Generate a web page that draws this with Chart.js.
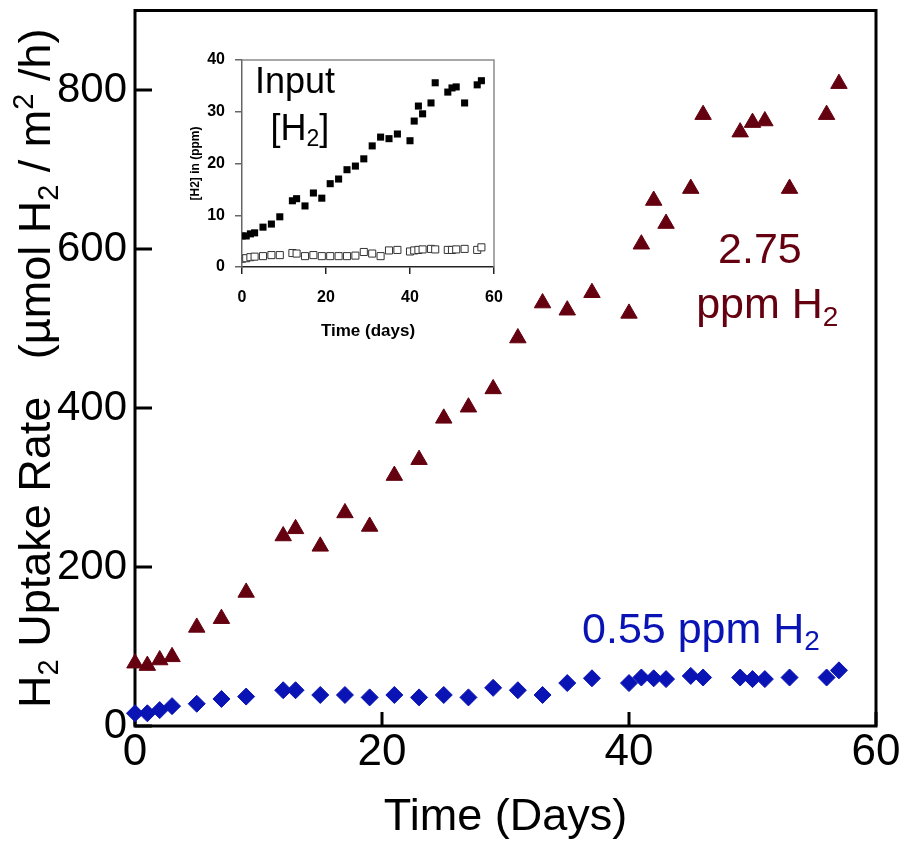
<!DOCTYPE html>
<html>
<head>
<meta charset="utf-8">
<script src="https://cdn.jsdelivr.net/npm/chart.js@4.4.0/dist/chart.umd.min.js"></script>
<style>
html, body { margin: 0; padding: 0; background: #fff; }
#wrap { position: relative; width: 909px; height: 845px; }
#main { position: absolute; left: 0; top: 0; }
#inset { position: absolute; left: 160px; top: 45px; }
</style>
</head>
<body>
<div id="wrap">
  <canvas id="main" width="909" height="845"></canvas>
  <canvas id="inset" width="350" height="320"></canvas>
</div>
<script>
// sampling days (shared by all series)
const days = [0, 1, 2, 3, 5, 7, 9, 12, 13, 15, 17, 19, 21, 23, 25, 27, 29, 31, 33, 35, 37, 40, 41, 42, 43, 45, 46, 49, 50, 51, 53, 56, 57];

// H2 uptake rate, umol H2 / m2 / h
const uptakeHigh = [79, 76, 83, 87, 124, 135, 168, 239, 248, 226, 268, 251, 315, 335, 387, 401, 424, 488, 532, 523, 545, 519, 606, 661, 632, 676, 769, 747, 759, 761, 676, 769, 808];
const uptakeLow = [16, 16, 20, 25, 28, 34, 37, 45, 45, 39, 39, 36, 39, 36, 39, 36, 48, 45, 39, 54, 60, 54, 61, 60, 59, 63, 61, 61, 59, 59, 61, 61, 70];

// inset: input [H2] in ppm
const inputHigh = [6.0, 6.0, 6.4, 6.6, 7.7, 8.3, 9.7, 12.8, 13.2, 11.8, 14.3, 13.3, 16.1, 17.0, 18.8, 19.5, 20.9, 23.4, 25.1, 24.8, 25.7, 24.4, 28.2, 31.1, 29.6, 31.7, 35.6, 33.8, 34.6, 34.8, 31.7, 35.2, 36.0];
const inputLow = [1.6, 1.7, 1.9, 2.0, 2.1, 2.3, 2.3, 2.7, 2.6, 2.1, 2.3, 2.1, 2.1, 2.1, 2.1, 2.2, 2.9, 2.6, 2.1, 3.2, 3.3, 3.0, 3.2, 3.3, 3.4, 3.5, 3.4, 3.3, 3.3, 3.4, 3.5, 3.3, 3.8];

// tick values
const mainXTicks = [0, 20, 40, 60];
const mainYTicks = [0, 200, 400, 600, 800];
const insetXTicks = [0, 20, 40, 60];
const insetYTicks = [0, 10, 20, 30, 40];

const RED = '#64000f';
const BLUE = '#0a14b4';
const FAMILY = "'Liberation Sans', Arial, sans-serif";

Chart.defaults.font.family = FAMILY;
Chart.defaults.color = '#000';

const pts = (ys) => days.map((d, i) => ({ x: d, y: ys[i] }));
const setTicks = (vals) => (scale) => { scale.ticks = vals.map(v => ({ value: v })); };
// fixed box size, no automatic label overflow padding
const fixBox = (w, h) => (s) => {
  if (w != null) s.width = w;
  if (h != null) s.height = h;
  s.paddingTop = 0; s.paddingBottom = 0; s.paddingLeft = 0; s.paddingRight = 0;
};

// text with sub/superscripts, drawn on the canvas
function richText(ctx, parts, x, y, size, color, align, rot) {
  ctx.save();
  ctx.translate(x, y);
  if (rot) ctx.rotate(rot);
  ctx.fillStyle = color;
  ctx.textBaseline = 'alphabetic';
  ctx.textAlign = 'left';
  const fontFor = k => (k ? Math.round(size * 0.65) : size) + 'px ' + FAMILY;
  let w = 0;
  parts.forEach(([t, k]) => { ctx.font = fontFor(k); w += ctx.measureText(t).width; });
  let cx = align === 'center' ? -w / 2 : (align === 'right' ? -w : 0);
  parts.forEach(([t, k]) => {
    ctx.font = fontFor(k);
    const dy = k === 'sub' ? size * 0.18 : (k === 'sup' ? -size * 0.38 : 0);
    ctx.fillText(t, cx, dy);
    cx += ctx.measureText(t).width;
  });
  ctx.restore();
}

const mainDecor = {
  id: 'mainDecor',
  beforeDatasetsDraw(chart) {
    const { ctx, chartArea: a, scales: { x, y } } = chart;
    ctx.save();
    ctx.strokeStyle = '#000';
    ctx.lineWidth = 3;
    ctx.strokeRect(a.left, a.top, a.right - a.left, a.bottom - a.top);
    ctx.beginPath();
    y.ticks.forEach(t => {
      const py = y.getPixelForValue(t.value);
      ctx.moveTo(a.left, py); ctx.lineTo(a.left + 17, py);
    });
    x.ticks.forEach(t => {
      const px = x.getPixelForValue(t.value);
      ctx.moveTo(px, a.bottom); ctx.lineTo(px, a.bottom - 14);
    });
    ctx.stroke();
    ctx.restore();
  },
  afterDraw(chart) {
    const { ctx, chartArea: a, scales: { x, y } } = chart;
    richText(ctx, [['2.75', '']], x.getPixelForValue(50.6), y.getPixelForValue(582), 43, RED, 'center');
    richText(ctx, [['ppm H', ''], ['2', 'sub']], x.getPixelForValue(51.2), y.getPixelForValue(513), 43, RED, 'center');
    richText(ctx, [['0.55 ppm H', ''], ['2', 'sub']], x.getPixelForValue(36.2), y.getPixelForValue(105), 43, BLUE, 'left');
    richText(ctx, [['H', ''], ['2', 'sub'], [' Uptake Rate   (\u00b5mol H', ''], ['2', 'sub'], [' / m', ''], ['2', 'sup'], [' /h)', '']],
      50, (a.top + a.bottom) / 2, 45, '#000', 'center', -Math.PI / 2);
  }
};

new Chart(document.getElementById('main'), {
  type: 'scatter',
  data: {
    datasets: [
      {
        label: '2.75 ppm H2',
        data: pts(uptakeHigh),
        pointStyle: 'triangle',
        radius: 9.5,
        backgroundColor: RED,
        borderColor: RED,
        borderWidth: 1,
        clip: false
      },
      {
        label: '0.55 ppm H2',
        data: pts(uptakeLow),
        pointStyle: 'rectRot',
        radius: 8.5,
        backgroundColor: BLUE,
        borderColor: BLUE,
        borderWidth: 1,
        clip: false
      }
    ]
  },
  options: {
    responsive: false,
    animation: false,
    devicePixelRatio: 1,
    layout: { padding: { left: 0, top: 10, right: 33, bottom: 0 } },
    plugins: { legend: { display: false }, tooltip: { enabled: false } },
    scales: {
      x: {
        type: 'linear',
        min: 0,
        max: 60,
        afterBuildTicks: setTicks(mainXTicks),
        afterFit: fixBox(null, 119),
        grid: { display: false, drawTicks: false },
        border: { display: false },
        ticks: { color: '#000', font: { size: 44 }, padding: 0, maxRotation: 0 },
        title: { display: true, text: 'Time (Days)', color: '#000', font: { size: 45 }, padding: { top: 0, bottom: 0 } }
      },
      y: {
        type: 'linear',
        min: 0,
        max: 900,
        afterBuildTicks: setTicks(mainYTicks),
        afterFit: fixBox(135, null),
        grid: { display: false, drawTicks: false },
        border: { display: false },
        ticks: { color: '#000', font: { size: 42 }, padding: 8 }
      }
    }
  },
  plugins: [mainDecor]
});

const insetDecor = {
  id: 'insetDecor',
  beforeDatasetsDraw(chart) {
    const { ctx, chartArea: a } = chart;
    ctx.save();
    ctx.strokeStyle = '#8c8c8c';
    ctx.lineWidth = 1.5;
    ctx.beginPath();
    ctx.moveTo(a.left, a.top); ctx.lineTo(a.right, a.top); ctx.lineTo(a.right, a.bottom);
    ctx.stroke();
    ctx.restore();
  },
  afterDraw(chart) {
    const { ctx, scales: { x, y } } = chart;
    richText(ctx, [['Input', '']], x.getPixelForValue(12.6), y.getPixelForValue(33.7), 36, '#000', 'center');
    richText(ctx, [['[H', ''], ['2', 'sub'], [']', '']], x.getPixelForValue(13.8), y.getPixelForValue(24.6), 36, '#000', 'center');
  }
};

new Chart(document.getElementById('inset'), {
  type: 'scatter',
  data: {
    datasets: [
      {
        label: '2.75 ppm input',
        data: pts(inputHigh),
        pointStyle: 'rect',
        radius: 5,
        backgroundColor: '#000',
        borderColor: '#000',
        borderWidth: 0
      },
      {
        label: '0.55 ppm input',
        data: pts(inputLow),
        pointStyle: 'rect',
        radius: 5,
        backgroundColor: '#fff',
        borderColor: '#333',
        borderWidth: 1
      }
    ]
  },
  options: {
    responsive: false,
    animation: false,
    devicePixelRatio: 1,
    layout: { padding: { left: 0, top: 15, right: 16, bottom: 0 } },
    plugins: { legend: { display: false }, tooltip: { enabled: false } },
    scales: {
      x: {
        type: 'linear',
        min: 0,
        max: 60,
        afterBuildTicks: setTicks(insetXTicks),
        afterFit: fixBox(null, 98),
        grid: { drawOnChartArea: false, drawTicks: true, tickLength: 7, color: '#222', lineWidth: 1.5 },
        border: { display: true, color: '#222', width: 1.5 },
        ticks: { color: '#000', font: { size: 16, weight: 'bold' }, padding: 14, maxRotation: 0 },
        title: { display: true, text: 'Time (days)', color: '#000', font: { size: 17, weight: 'bold' }, padding: { top: 0, bottom: 23 } }
      },
      y: {
        type: 'linear',
        min: 0,
        max: 40,
        afterBuildTicks: setTicks(insetYTicks),
        afterFit: fixBox(82, null),
        grid: { drawOnChartArea: false, drawTicks: true, tickLength: 7, color: '#666', lineWidth: 1.5 },
        border: { display: true, color: '#666', width: 1.5 },
        ticks: { color: '#000', font: { size: 16, weight: 'bold' }, padding: 10 },
        title: { display: true, text: '[H2] in (ppm)', color: '#000', font: { size: 12, weight: 'bold' }, padding: { top: 28, bottom: 0 } }
      }
    }
  },
  plugins: [insetDecor]
});
</script>
</body>
</html>
